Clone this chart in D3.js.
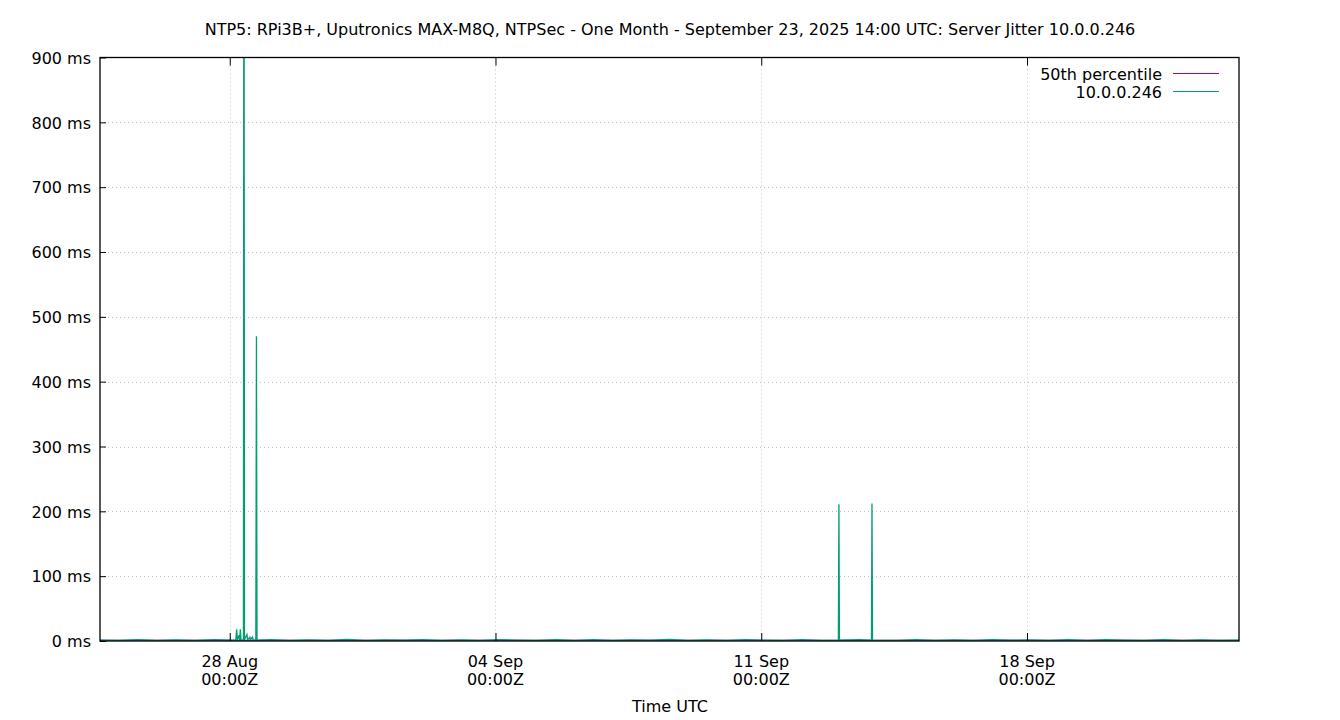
<!DOCTYPE html>
<html>
<head>
<meta charset="utf-8">
<script src="https://cdn.jsdelivr.net/npm/d3@7"></script>
<style>
  html, body { margin: 0; padding: 0; background: #fff; }
  svg text { font-family: "DejaVu Sans", sans-serif; fill: #000; }
</style>
</head>
<body>
<svg id="chart" width="1340" height="720"></svg>
<script>
// ---------- DATA ----------
const chartTitle = "NTP5: RPi3B+, Uputronics MAX-M8Q, NTPSec - One Month - September 23, 2025 14:00 UTC: Server Jitter 10.0.0.246";
const xAxisTitle = "Time UTC";
const domainStart = "2025-08-24T14:00Z";
const domainEnd = "2025-09-23T14:00Z";
const xTickDates = ["2025-08-28T00:00Z", "2025-09-04T00:00Z", "2025-09-11T00:00Z", "2025-09-18T00:00Z"];
const xTickLine1 = ["28 Aug", "04 Sep", "11 Sep", "18 Sep"];
const xTickLine2 = ["00:00Z", "00:00Z", "00:00Z", "00:00Z"];
const yTicks = [0, 100, 200, 300, 400, 500, 600, 700, 800, 900];
const seriesNames = ["50th percentile", "10.0.0.246"];
const medianMs = 1.2;

const jitterTimes = [
  "2025-08-24T14:00Z","2025-08-25T02:00Z","2025-08-25T14:00Z","2025-08-26T02:00Z","2025-08-26T14:00Z",
  "2025-08-27T02:00Z","2025-08-27T14:00Z","2025-08-28T02:00Z",
  "2025-08-28T03:50Z","2025-08-28T04:24Z","2025-08-28T04:50Z","2025-08-28T05:54Z","2025-08-28T06:20Z",
  "2025-08-28T06:42Z","2025-08-28T07:10Z","2025-08-28T08:40Z","2025-08-28T09:00Z","2025-08-28T09:20Z",
  "2025-08-28T10:54Z","2025-08-28T11:20Z","2025-08-28T12:48Z","2025-08-28T13:10Z","2025-08-28T14:24Z",
  "2025-08-28T14:50Z","2025-08-28T16:30Z","2025-08-28T16:54Z","2025-08-28T17:15Z",
  "2025-08-29T02:00Z","2025-08-29T14:00Z","2025-08-30T02:00Z","2025-08-30T14:00Z",
  "2025-08-31T02:00Z","2025-08-31T14:00Z","2025-09-01T02:00Z","2025-09-01T14:00Z","2025-09-02T02:00Z",
  "2025-09-02T14:00Z","2025-09-03T02:00Z","2025-09-03T14:00Z","2025-09-04T02:00Z","2025-09-04T14:00Z",
  "2025-09-05T02:00Z","2025-09-05T14:00Z","2025-09-06T02:00Z","2025-09-06T14:00Z","2025-09-07T02:00Z",
  "2025-09-07T14:00Z","2025-09-08T02:00Z","2025-09-08T14:00Z","2025-09-09T02:00Z","2025-09-09T14:00Z",
  "2025-09-10T02:00Z","2025-09-10T14:00Z","2025-09-11T02:00Z","2025-09-11T14:00Z","2025-09-12T02:00Z",
  "2025-09-12T14:00Z","2025-09-13T00:45Z","2025-09-13T01:06Z","2025-09-13T01:25Z","2025-09-13T14:00Z",
  "2025-09-13T21:40Z","2025-09-13T22:00Z","2025-09-13T22:20Z",
  "2025-09-14T14:00Z","2025-09-15T02:00Z","2025-09-15T14:00Z","2025-09-16T02:00Z","2025-09-16T14:00Z",
  "2025-09-17T02:00Z","2025-09-17T14:00Z","2025-09-18T02:00Z","2025-09-18T14:00Z","2025-09-19T02:00Z",
  "2025-09-19T14:00Z","2025-09-20T02:00Z","2025-09-20T14:00Z","2025-09-21T02:00Z","2025-09-21T14:00Z",
  "2025-09-22T02:00Z","2025-09-22T14:00Z","2025-09-23T02:00Z","2025-09-23T14:00Z"
];
const jitterMs = [
  1.4, 0.9, 2.1, 1.1, 1.8,
  0.8, 2.2, 1.3,
  1.2, 18, 1.5, 9, 1.3,
  18, 1.4, 1.5, 1500, 2.0,
  10, 1.5, 6, 2.0, 6,
  1.5, 1.4, 470, 1.3,
  2.0, 0.9, 1.7, 1.1,
  2.3, 0.8, 1.6, 1.2, 2.0,
  0.9, 1.8, 1.0, 2.2, 1.3,
  0.8, 1.9, 1.1, 2.1, 0.9,
  1.7, 1.2, 2.3, 0.8, 1.6,
  1.0, 2.0, 1.3, 0.9, 2.1,
  1.1, 1.2, 211, 1.2, 1.9,
  1.3, 212, 1.4,
  0.9, 2.0, 1.1, 1.8, 0.8,
  2.2, 1.2, 1.6, 0.9, 2.1,
  1.0, 1.9, 1.3, 0.8, 2.2,
  1.1, 1.7, 0.9, 1.5
];

// ---------- LAYOUT ----------
const svg = d3.select("#chart");
const m = { left: 100, right: 1239, top: 57.5, bottom: 641 };
const parse = d3.utcParse("%Y-%m-%dT%H:%MZ");
const FS = "16px";

const x = d3.scaleUtc().domain([parse(domainStart), parse(domainEnd)]).range([m.left, m.right]);
const y = d3.scaleLinear().domain([0, 900]).range([m.bottom, m.top]);

const gridColor = "#c0c0c0";

// grid
const gGrid = svg.append("g");
gGrid.selectAll("line.hg").data(yTicks.slice(1, -1)).join("line")
  .attr("x1", m.left).attr("x2", m.right)
  .attr("y1", d => Math.round(y(d)) + 0.5).attr("y2", d => Math.round(y(d)) + 0.5)
  .attr("stroke", gridColor).attr("stroke-width", 1).attr("stroke-dasharray", "1,3");
gGrid.selectAll("line.vg").data(xTickDates).join("line")
  .attr("x1", d => Math.round(x(parse(d))) + 0.5).attr("x2", d => Math.round(x(parse(d))) + 0.5)
  .attr("y1", m.top).attr("y2", m.bottom)
  .attr("stroke", gridColor).attr("stroke-width", 1).attr("stroke-dasharray", "1,3");

// clip
svg.append("clipPath").attr("id", "clip").append("rect")
  .attr("x", m.left).attr("y", m.top).attr("width", m.right - m.left).attr("height", m.bottom - m.top);

// median line
svg.append("line")
  .attr("clip-path", "url(#clip)")
  .attr("x1", x(parse(domainStart))).attr("x2", x(parse(domainEnd)))
  .attr("y1", y(medianMs)).attr("y2", y(medianMs))
  .attr("stroke", "#9400d3").attr("stroke-width", 1);

// jitter series
const pts = jitterTimes.map((t, i) => [parse(t), jitterMs[i]]);
svg.append("path")
  .datum(pts)
  .attr("clip-path", "url(#clip)")
  .attr("fill", "none")
  .attr("stroke", "#009e73")
  .attr("stroke-width", 1.3)
  .attr("d", d3.line().x(d => x(d[0])).y(d => y(d[1])));

// axes via d3 axis (ticks inward)
const yAxis = d3.axisLeft(y).tickValues(yTicks).tickSize(-6).tickPadding(10).tickFormat(d => d + " ms");
const gy = svg.append("g").attr("transform", `translate(${m.left},0)`).call(yAxis);
gy.select(".domain").remove();
gy.selectAll("line").attr("stroke", "#000");
gy.selectAll("text").attr("font-size", FS).attr("x", -9).attr("dy", "0.36em");

const xAxisB = d3.axisBottom(x).tickValues(xTickDates.map(parse)).tickSize(-8).tickFormat("");
const gxb = svg.append("g").attr("transform", `translate(0,${m.bottom})`).call(xAxisB);
gxb.select(".domain").remove();
gxb.selectAll("line").attr("stroke", "#000");

const xAxisT = d3.axisTop(x).tickValues(xTickDates.map(parse)).tickSize(-8).tickFormat("");
const gxt = svg.append("g").attr("transform", `translate(0,${m.top})`).call(xAxisT);
gxt.select(".domain").remove();
gxt.selectAll("line").attr("stroke", "#000");

// x tick labels (two lines)
const xl = svg.append("g");
xTickDates.forEach((d, i) => {
  const t = xl.append("text").attr("text-anchor", "middle").attr("font-size", FS)
    .attr("x", x(parse(d)));
  t.append("tspan").attr("x", x(parse(d))).attr("y", 667).text(xTickLine1[i]);
  t.append("tspan").attr("x", x(parse(d))).attr("y", 685).text(xTickLine2[i]);
});

// border
svg.append("rect")
  .attr("x", m.left).attr("y", m.top).attr("width", m.right - m.left).attr("height", m.bottom - m.top)
  .attr("fill", "none").attr("stroke", "#000").attr("stroke-width", 1.3);

// title
svg.append("text").attr("x", 670).attr("y", 35).attr("text-anchor", "middle")
  .attr("font-size", FS).text(chartTitle);
svg.append("text").attr("x", 670).attr("y", 712).attr("text-anchor", "middle")
  .attr("font-size", FS).text(xAxisTitle);

// legend
const legColors = ["#9400d3", "#009e73"];
const leg = svg.append("g");
seriesNames.forEach((n, i) => {
  const yy = 73.5 + i * 18;
  leg.append("text").attr("x", 1162).attr("y", yy + 6).attr("text-anchor", "end")
    .attr("font-size", FS).text(n);
  leg.append("line").attr("x1", 1173).attr("x2", 1219).attr("y1", yy).attr("y2", yy)
    .attr("stroke", legColors[i]).attr("stroke-width", 1);
});
</script>
</body>
</html>
